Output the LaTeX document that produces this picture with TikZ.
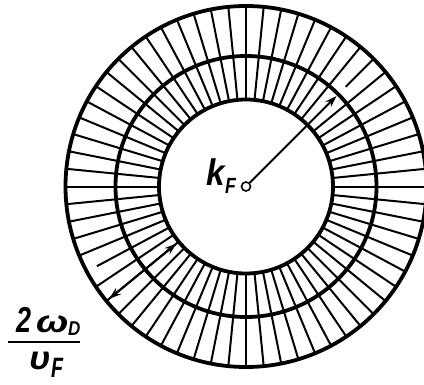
\documentclass[tikz,border=0pt]{standalone}
\usepackage{fontspec}
\usepackage{graphicx}
\setmainfont{Liberation Sans}
\usetikzlibrary{arrows.meta,calc}
\newcommand{\fsz}[1]{\fontsize{#1}{#1}\selectfont}
\begin{document}
\begin{tikzpicture}[x=1pt,y=1pt,
  ring/.style={line width=3.8pt},
  ray/.style={line width=2pt},
  arr/.style={line width=2pt},
  lbl/.style={inner sep=0pt, anchor=base west}]
\useasboundingbox (0,0) rectangle (424,384);
\coordinate (c) at (246,197.5);
% radial lines
\foreach \i in {1,...,63} {
  \pgfmathsetmacro\a{45+\i*5.625}
  \ifnum\i=29
    \draw[ray] ($(c)+(\a:86pt)$) -- ($(c)+(\a:169pt)$);
  \else
    \draw[ray] ($(c)+(\a:86pt)$) -- ($(c)+(\a:180pt)$);
  \fi
}
\draw[ray] ($(c)+(45:141pt)$) -- ($(c)+(45:180pt)$);
% circles
\draw[ring] (c) circle[radius=87pt];
\draw[ring] (c) circle[radius=130.5pt];
\draw[ring] (c) circle[radius=180.5pt];
% centre mark
\node (o) [circle, draw, line width=1.6pt, fill=white, minimum size=9pt, inner sep=0pt] at (c) {};
% radius arrow
\coordinate (r1) at ($(c)+(45:128pt)$);
\draw[arr,-{Stealth[length=12pt,width=8pt]}] (o.45) -- (r1);
% shell width arrow
\coordinate (a1) at ($(c)+(219.375:90pt)$);
\coordinate (a2) at ($(c)+(219.375:177pt)$);
\draw[arr,{Stealth[length=12pt,width=8pt]}-{Stealth[length=12pt,width=8pt]}] (a1) -- (a2);
% labels
\node (k) [lbl, font=\bfseries\itshape\fsz{37}] at (206,199) {\scalebox{0.9}[1]{k}};
\node (kF) [lbl, font=\bfseries\itshape\fsz{22}] at (225,191) {\scalebox{0.8}[1]{F}};
\node (two) [lbl, font=\bfseries\itshape\fsz{36}] at (16,52) {\scalebox{0.75}[1]{2}};
\node (om) [lbl, font=\bfseries\itshape\fsz{31}] at (36,52) {\scalebox{1.25}[1]{ω}};
\node (D) [lbl, font=\bfseries\itshape\fsz{20}] at (68,49) {\scalebox{0.85}[1]{D}};
\coordinate (b1) at (8,42);
\coordinate (b2) at (80,42);
\draw[line width=2.4pt] (b1) -- (b2);
\node (v) [lbl, font=\bfseries\itshape\fsz{33}] at (29,15) {\scalebox{1.1}[1]{υ}};
\node (vF) [lbl, font=\bfseries\itshape\fsz{28}] at (51,7) {\scalebox{0.7}[1]{F}};
\end{tikzpicture}
\end{document}
